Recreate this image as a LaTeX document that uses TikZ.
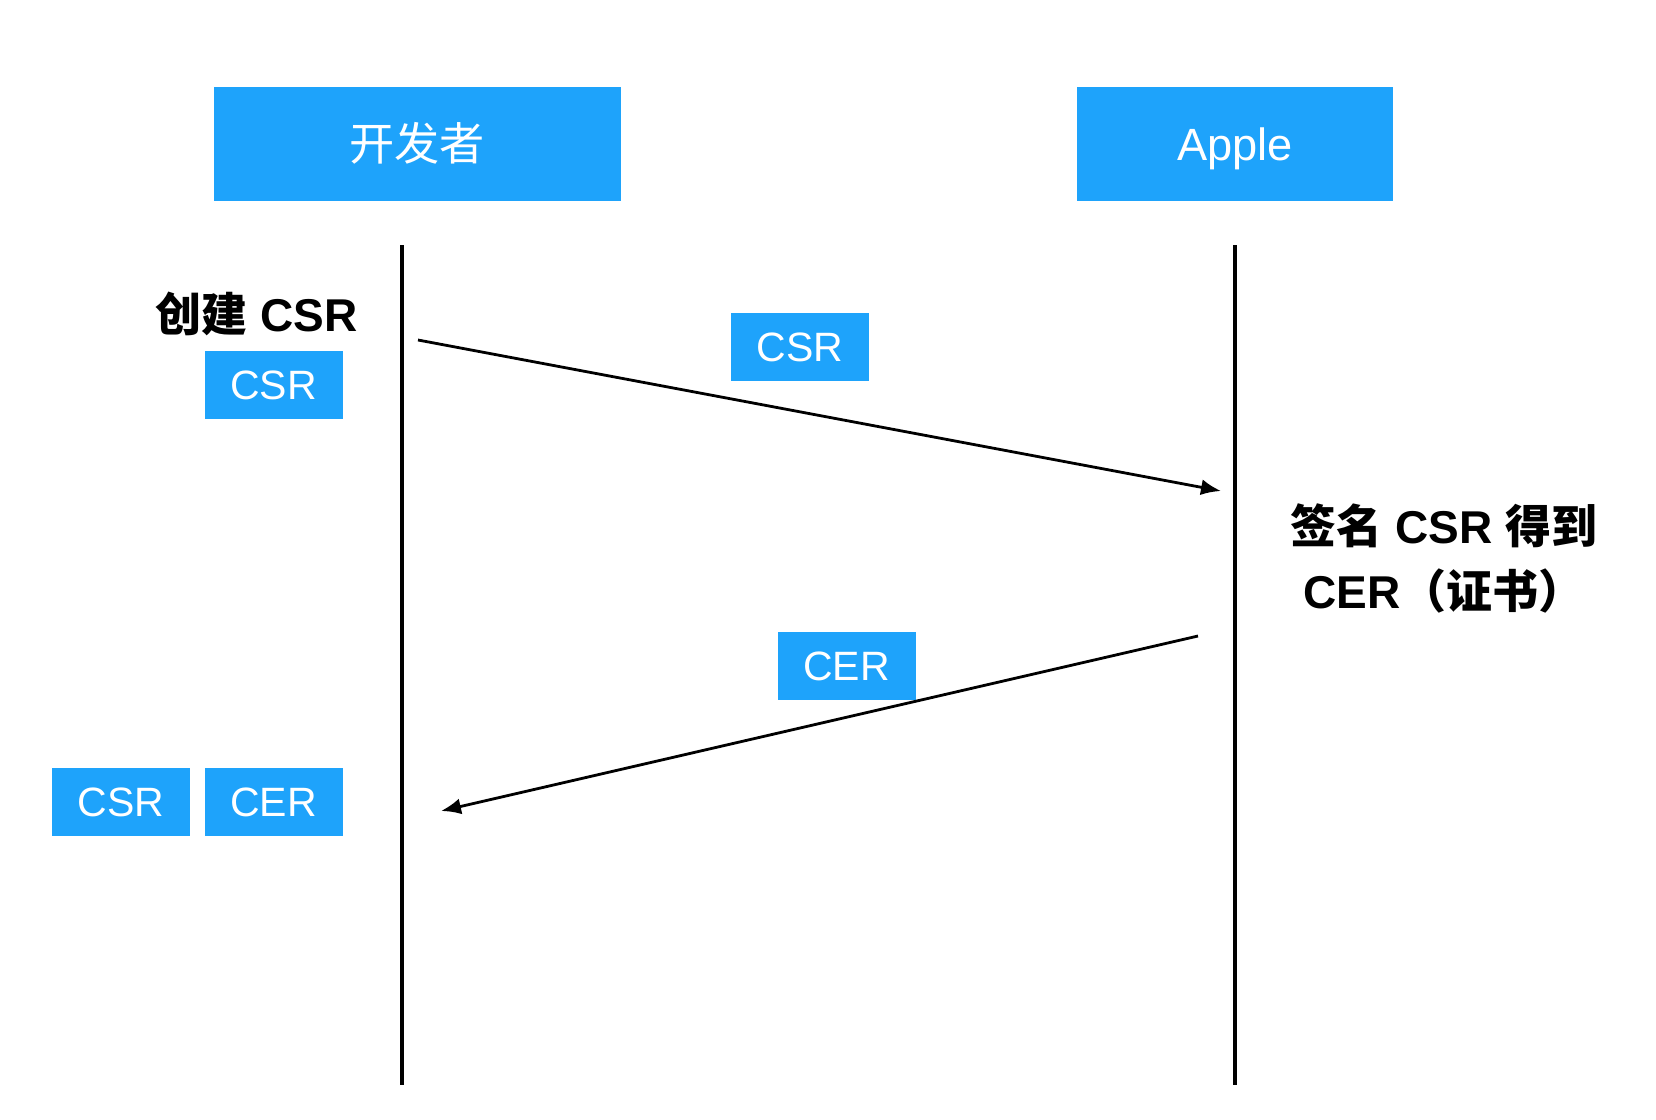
\documentclass[tikz,border=0pt]{standalone}
\usepackage{fontspec}
\setmainfont{Liberation Sans}
\newfontfamily\cjk{Noto Sans CJK SC}
\usetikzlibrary{arrows.meta}
\definecolor{blu}{HTML}{1EA3FB}
\begin{document}
\begin{tikzpicture}[x=0.5pt,y=-0.5pt,
  box/.style={fill=blu, text=white, inner sep=0pt, text depth=0pt},
  hdr/.style={box, minimum height=57pt, text height=16pt, font=\fontsize{22.6}{26}\selectfont},
  tag/.style={box, minimum width=69pt, minimum height=34pt, text height=14.6pt, font=\fontsize{20.5}{24}\selectfont},
  lbl/.style={text=black, inner sep=0pt, font=\bfseries\fontsize{23}{28}\selectfont},
  life/.style={line width=1.7pt},
  msg/.style={line width=1.4pt, -{Latex[length=10pt,width=8pt]}}
]
\useasboundingbox (0,0) rectangle (1656,1120);
% headers
\node[hdr, minimum width=203.5pt] (dev) at (417,144) {\cjk 开发者};
\node[hdr, minimum width=158pt] (apple) at (1235,144) {Apple};
% lifelines
\coordinate (l1) at (402,245);
\coordinate (l2) at (402,1085);
\coordinate (r1) at (1235,245);
\coordinate (r2) at (1235,1085);
\draw[life] (l1) -- (l2);
\draw[life] (r1) -- (r2);
% labels
\node[lbl, anchor=base] (create) at (256.6,331) {{\cjk\bfseries 创建} CSR};
\node[lbl, anchor=base west] (sign1) at (1290,543) {{\cjk\bfseries 签名} CSR {\cjk\bfseries 得到}};
\node[lbl, anchor=base west] (sign2) at (1303,608) {CER{\cjk\bfseries （证书）}};
% tags
\node[tag] (csr0) at (273.5,384.5) {CSR};
\node[tag] (csr1) at (800,347) {CSR};
\node[tag] (cer1) at (846.5,666) {CER};
\node[tag] (csr2) at (121,802) {CSR};
\node[tag] (cer2) at (273.5,802) {CER};
% messages
\coordinate (a1s) at (418,340);
\coordinate (a1e) at (1221,491);
\coordinate (a2s) at (1198,636);
\coordinate (a2e) at (441,811);
\draw[msg] (a1s) -- (a1e);
\draw[msg] (a2s) -- (a2e);
\end{tikzpicture}
\end{document}
